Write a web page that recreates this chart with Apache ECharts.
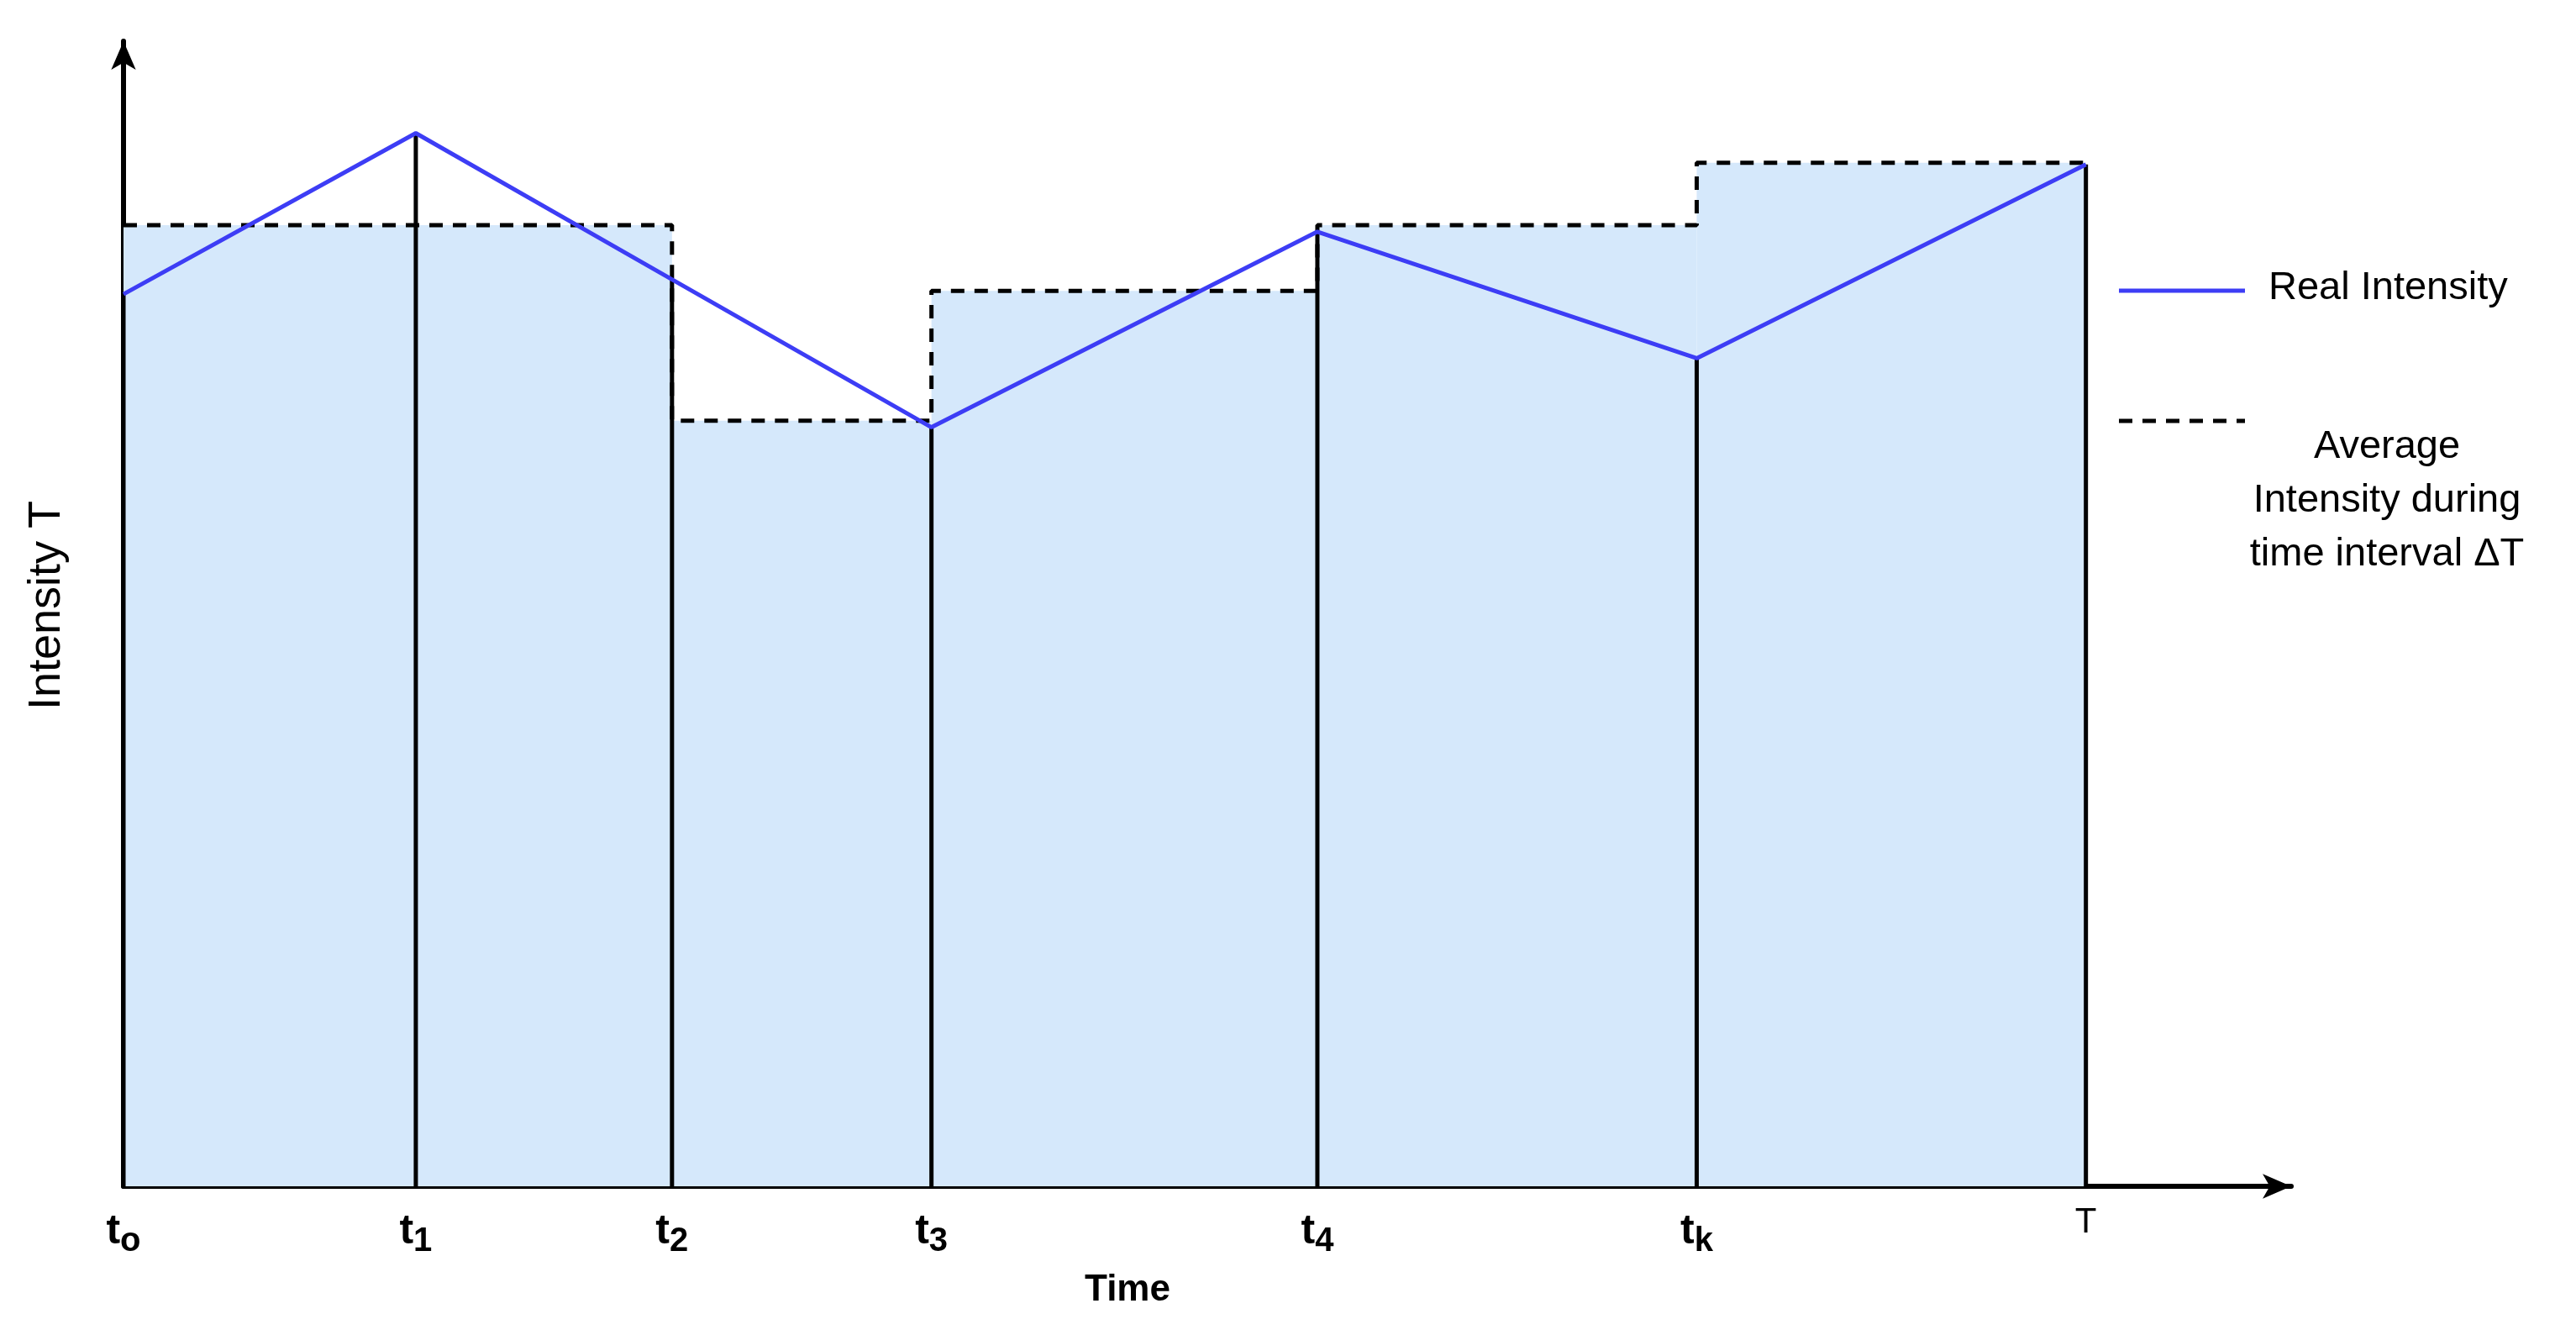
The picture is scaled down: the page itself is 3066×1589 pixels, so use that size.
<!DOCTYPE html>
<html><head><meta charset="utf-8">
<script src="https://cdn.jsdelivr.net/npm/echarts@6/dist/echarts.min.js"></script>
<style>html,body{margin:0;padding:0;background:#fff}#c{width:3066px;height:1589px}</style>
</head><body><div id="c"></div>
<script>
const tickTimes = [0, 178, 334, 492, 727, 958, 1195];
const tickLabels = ['{t|t}{s|o}', '{t|t}{s|1}', '{t|t}{s|2}', '{t|t}{s|3}', '{t|t}{s|4}', '{t|t}{s|k}', '{T|T}'];
const realIntensity = [543, 641, 552, 462, 581, 504, 622];
const intervalBounds = [0, 334, 492, 727, 958, 1195];
const averageIntensity = [585, 466, 545, 585, 623];

const chart = echarts.init(document.getElementById('c'));
const F = 'Liberation Sans, Arial, sans-serif';
const realData = tickTimes.map((t, i) => [t, realIntensity[i]]);
const barData = averageIntensity.map((v, i) => [intervalBounds[i], intervalBounds[i + 1], v]);
const stepData = averageIntensity.map((v, i) => [intervalBounds[i], v]).concat([[intervalBounds[intervalBounds.length - 1], averageIntensity[averageIntensity.length - 1]]]);
const labelMap = {}; tickTimes.forEach((t, i) => labelMap[t] = tickLabels[i]);

chart.setOption({
  animation: false,
  grid: { left: 147, right: 3066 - 2727, top: 49, bottom: 1589 - 1412 },
  xAxis: {
    type: 'value', min: 0, max: 1320,
    axisLine: { show: true, lineStyle: { color: '#000', width: 6 }, symbol: ['none', 'arrow'], symbolSize: [22, 34] },
    axisTick: { show: false }, splitLine: { show: false },
    axisLabel: {
      customValues: tickTimes, margin: 22, color: '#000', fontFamily: F,
      formatter: v => labelMap[v] || '',
      rich: {
        t: { fontSize: 50, fontWeight: 'bold', fontFamily: F, color: '#000' },
        s: { fontSize: 40, fontWeight: 'bold', fontFamily: F, color: '#000', verticalAlign: 'bottom', padding: [24, 0, 0, 0] },
        T: { fontSize: 42, fontFamily: F, color: '#000' }
      }
    },
    name: 'Time', nameLocation: 'middle', nameGap: 102,
    nameTextStyle: { fontSize: 44, fontWeight: 'bold', fontFamily: F, color: '#000', padding: [0, 0, 0, -190] }
  },
  yAxis: {
    type: 'value', min: 0, max: 697,
    axisLine: { show: true, lineStyle: { color: '#000', width: 6 }, symbol: ['none', 'arrow'], symbolSize: [22, 34] },
    axisTick: { show: false }, splitLine: { show: false }, axisLabel: { show: false },
    name: 'Intensity T', nameLocation: 'middle', nameGap: 64, nameRotate: 90,
    nameTextStyle: { fontSize: 54, fontFamily: F, color: '#000', padding: [0, 0, 0, 20] }
  },
  series: [
    {
      type: 'custom', data: barData, z: 1, clip: false,
      encode: { x: [0, 1], y: 2 },
      renderItem: (params, api) => {
        const p0 = api.coord([api.value(0), api.value(2)]);
        const p1 = api.coord([api.value(1), 0]);
        return { type: 'rect', shape: { x: p0[0], y: p0[1], width: p1[0] - p0[0], height: p1[1] - p0[1] }, style: { fill: '#d5e8fb' } };
      }
    },
    {
      type: 'line', data: stepData, step: 'end', symbol: 'none', z: 3,
      lineStyle: { color: '#000', width: 5, type: [16, 12] }
    },
    {
      type: 'custom', data: realData, z: 4,
      renderItem: (params, api) => {
        const a = api.coord([api.value(0), 0]);
        const b = api.coord([api.value(0), api.value(1)]);
        return { type: 'line', shape: { x1: a[0], y1: a[1], x2: b[0], y2: b[1] }, style: { stroke: '#000', lineWidth: 5 } };
      }
    },
    {
      type: 'line', data: realData, symbol: 'none', z: 5,
      lineStyle: { color: '#3d3df5', width: 5 }
    }
  ],
  graphic: [
    { type: 'line', shape: { x1: 2522, y1: 346, x2: 2672, y2: 346 }, style: { stroke: '#3d3df5', lineWidth: 5 } },
    { type: 'text', left: 2700, top: 320, style: { text: 'Real Intensity', fontSize: 47, fontFamily: F, fill: '#000' } },
    { type: 'line', shape: { x1: 2522, y1: 501, x2: 2672, y2: 501 }, style: { stroke: '#000', lineWidth: 5, lineDash: [16, 12] } },
    { type: 'text', x: 2841, y: 500, style: { text: 'Average\nIntensity during\ntime interval ΔT', fontSize: 47, lineHeight: 64, fontFamily: F, fill: '#000', align: 'center' } }
  ]
});
</script></body></html>
